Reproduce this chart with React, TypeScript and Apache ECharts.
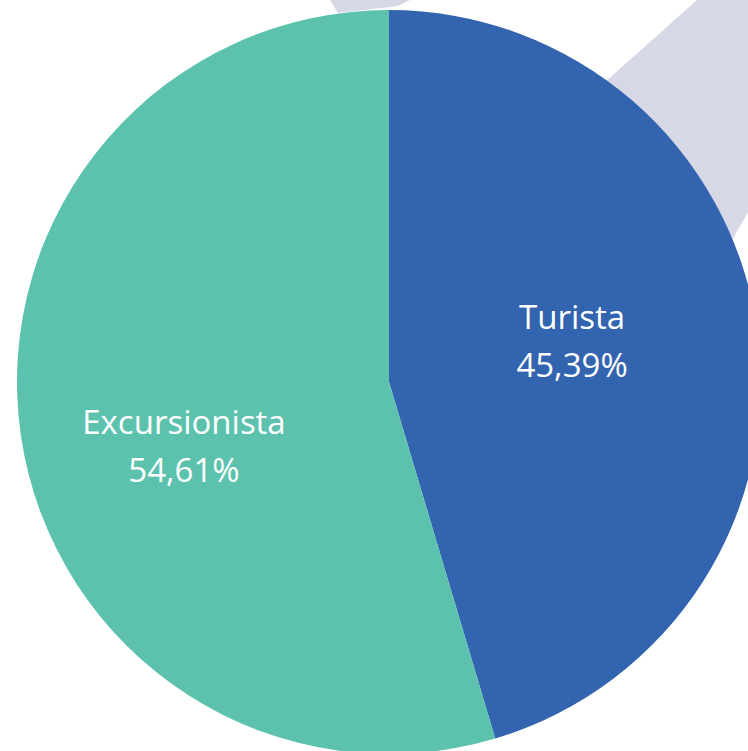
import React, { useEffect, useRef } from "react";
import * as echarts from "echarts";

const categories = ["Turista", "Excursionista"];
const values = [45.39, 54.61];
const colors = ["#3264AF", "#5CC2AD"];
const labelShift = [
  [-4, -14],
  [-18, 36],
];

export default function App() {
  const ref = useRef<HTMLDivElement>(null);
  useEffect(() => {
    document.body.style.margin = "0";
    const chart = echarts.init(ref.current!, null, { renderer: "svg" });
    chart.setOption({
      animation: false,
      backgroundColor: "#ffffff",
      graphic: [
        {
          type: "polygon",
          z: 0,
          silent: true,
          shape: { points: [[697, 0], [871, 0], [671, 345], [310, 345]] },
          style: { fill: "#D6D8E6" },
        },
        {
          type: "polygon",
          z: 0,
          silent: true,
          shape: { points: [[330, 0], [410, 0], [398, 6], [338, 13]] },
          style: { fill: "#D6D8E6" },
        },
      ],
      series: [
        {
          type: "pie",
          z: 5,
          center: [389, 382],
          radius: 372,
          startAngle: 90,
          clockwise: true,
          avoidLabelOverlap: false,
          label: {
            show: true,
            position: "inside",
            color: "#ffffff",
            fontFamily: "'Open Sans', sans-serif",
            fontSize: 33,
            lineHeight: 48,
            fontWeight: 400,
            formatter: (p: any) =>
              p.name + "\n" + p.value.toFixed(2).replace(".", ",") + "%",
          },
          labelLine: { show: false },
          labelLayout: (p: any) => ({
            dx: labelShift[p.dataIndex][0],
            dy: labelShift[p.dataIndex][1],
          }),
          emphasis: { disabled: true },
          data: categories.map((name, i) => ({
            name,
            value: values[i],
            itemStyle: { color: colors[i] },
          })),
        },
      ],
    });
    return () => chart.dispose();
  }, []);
  return <div ref={ref} style={{ width: 748, height: 751 }} />;
}
